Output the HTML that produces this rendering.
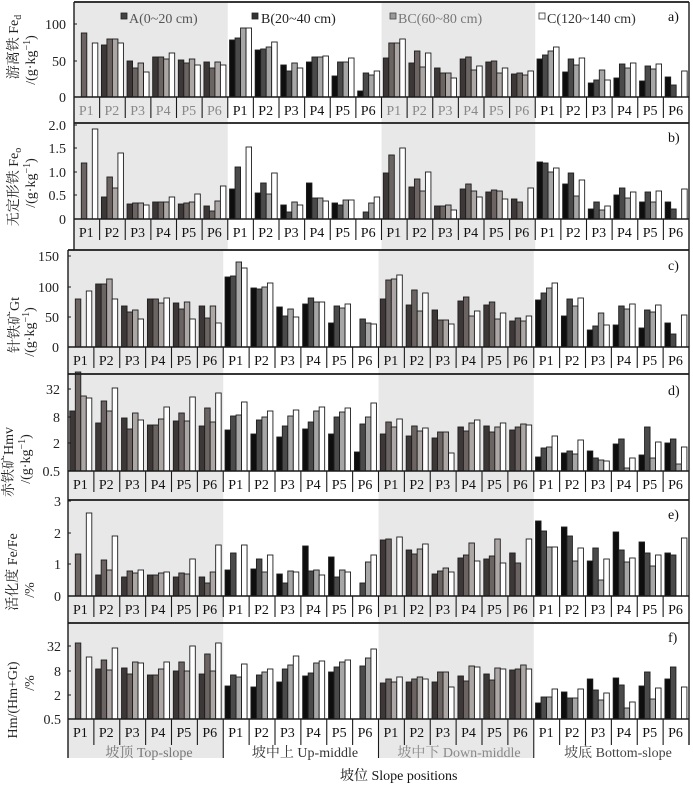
<!DOCTYPE html>
<html>
<head>
<meta charset="utf-8">
<style>
html,body{margin:0;padding:0;background:#fff;}
svg{display:block;}
text{font-family:"Liberation Serif","Noto Serif CJK SC","Noto Sans CJK SC",serif;}
</style>
</head>
<body>
<svg id="svg" xmlns="http://www.w3.org/2000/svg" width="693" height="785" viewBox="0 0 693 785">
<rect x="0" y="0" width="693" height="785" fill="#fff"/>
<g id="bg"></g>
<g id="bars"></g>
<g id="lines"></g>

<!-- Legend -->
<g font-size="14">
<rect x="121" y="13" width="6" height="6" fill="#444" stroke="#222" stroke-width="0.8"/>
<text x="129" y="23" fill="#555">A(0~20 cm)</text>
<rect x="252" y="13" width="6" height="6" fill="#333" stroke="#222" stroke-width="0.8"/>
<text x="261" y="23" fill="#222">B(20~40 cm)</text>
<rect x="390" y="13" width="6" height="6" fill="#999" stroke="#444" stroke-width="0.8"/>
<text x="398" y="23" fill="#777">BC(60~80 cm)</text>
<rect x="539" y="13" width="6" height="6" fill="#fff" stroke="#333" stroke-width="0.8"/>
<text x="547" y="23" fill="#333">C(120~140 cm)</text>
</g>

<!-- Panel letters -->
<g font-size="14" fill="#111">
<text x="668" y="21">a)</text>
<text x="668" y="142">b)</text>
<text x="668" y="270">c)</text>
<text x="668" y="395">d)</text>
<text x="668" y="519">e)</text>
<text x="668" y="642">f)</text>
</g>

<!-- Tick labels -->
<g font-size="14" fill="#222" text-anchor="end">
<text x="66" y="29">100</text><text x="66" y="66">50</text><text x="66" y="102">0</text>
<text x="66" y="130">2.0</text><text x="66" y="153">1.5</text><text x="66" y="177">1.0</text><text x="66" y="200">0.5</text><text x="66" y="224">0</text>
<text x="59" y="261">150</text><text x="59" y="292">100</text><text x="59" y="322">50</text><text x="59" y="352">0</text>
<text x="60" y="394">32</text><text x="60" y="422">8</text><text x="60" y="448">2</text><text x="60" y="476">0.5</text>
<text x="61" y="506">3</text><text x="61" y="538">2</text><text x="61" y="569">1</text><text x="61" y="601">0</text>
<text x="61" y="651">32</text><text x="61" y="676">8</text><text x="61" y="700">2</text><text x="61" y="724">0.5</text>
</g>

<!-- Y-axis titles -->
<g font-size="14" fill="#222" text-anchor="middle">
<text transform="translate(13,47) rotate(-90)" dy="5">游离铁 Fe<tspan font-size="10" dy="3">d</tspan></text>
<text transform="translate(30,60) rotate(-90)" dy="5">/(g·kg<tspan font-size="10" dy="-5">−1</tspan><tspan dy="5">)</tspan></text>
<text transform="translate(13,187) rotate(-90)" dy="5">无定形铁 Fe<tspan font-size="10" dy="3">o</tspan></text>
<text transform="translate(30,183) rotate(-90)" dy="5">/(g·kg<tspan font-size="10" dy="-5">−1</tspan><tspan dy="5">)</tspan></text>
<text transform="translate(14,325) rotate(-90)" dy="5">针铁矿Gt</text>
<text transform="translate(29,332) rotate(-90)" dy="5">/(g·kg<tspan font-size="10" dy="-5">−1</tspan><tspan dy="5">)</tspan></text>
<text transform="translate(8,462) rotate(-90)" dy="5">赤铁矿Hmv</text>
<text transform="translate(25,459) rotate(-90)" dy="5">/(g·kg<tspan font-size="10" dy="-5">−1</tspan><tspan dy="5">)</tspan></text>
<text transform="translate(12,572) rotate(-90)" dy="5">活化度 Fe/Fe</text>
<text transform="translate(29,590) rotate(-90)" dy="5">/%</text>
<text transform="translate(12,700) rotate(-90)" dy="5">Hm/(Hm+Gt)</text>
<text transform="translate(29,683) rotate(-90)" dy="5">/%</text>
</g>

<!-- P labels -->
<g font-size="14" text-anchor="middle">
<text y="115" fill="#888"><tspan x="86.3">P1</tspan><tspan x="111.9">P2</tspan><tspan x="137.6">P3</tspan><tspan x="163.2">P4</tspan><tspan x="188.8">P5</tspan><tspan x="214.4">P6</tspan></text>
<text y="115" fill="#111"><tspan x="240.1">P1</tspan><tspan x="265.7">P2</tspan><tspan x="291.3">P3</tspan><tspan x="316.9">P4</tspan><tspan x="342.6">P5</tspan><tspan x="368.2">P6</tspan></text>
<text y="115" fill="#888"><tspan x="393.8">P1</tspan><tspan x="419.4">P2</tspan><tspan x="445.1">P3</tspan><tspan x="470.7">P4</tspan><tspan x="496.3">P5</tspan><tspan x="521.9">P6</tspan></text>
<text y="115" fill="#111"><tspan x="547.6">P1</tspan><tspan x="573.2">P2</tspan><tspan x="598.8">P3</tspan><tspan x="624.4">P4</tspan><tspan x="650.1">P5</tspan><tspan x="675.7">P6</tspan></text>

<text y="237" fill="#111"><tspan x="86.3">P1</tspan><tspan x="111.9">P2</tspan><tspan x="137.6">P3</tspan><tspan x="163.2">P4</tspan><tspan x="188.8">P5</tspan><tspan x="214.4">P6</tspan><tspan x="240.1">P1</tspan><tspan x="265.7">P2</tspan><tspan x="291.3">P3</tspan><tspan x="316.9">P4</tspan><tspan x="342.6">P5</tspan><tspan x="368.2">P6</tspan><tspan x="393.8">P1</tspan><tspan x="419.4">P2</tspan><tspan x="445.1">P3</tspan><tspan x="470.7">P4</tspan><tspan x="496.3">P5</tspan><tspan x="521.9">P6</tspan><tspan x="547.6">P1</tspan><tspan x="573.2">P2</tspan><tspan x="598.8">P3</tspan><tspan x="624.4">P4</tspan><tspan x="650.1">P5</tspan><tspan x="675.7">P6</tspan></text>

<text y="365" fill="#111"><tspan x="80.4">P1</tspan><tspan x="106.3">P2</tspan><tspan x="132.2">P3</tspan><tspan x="158.0">P4</tspan><tspan x="183.9">P5</tspan><tspan x="209.8">P6</tspan><tspan x="235.7">P1</tspan><tspan x="261.5">P2</tspan><tspan x="287.4">P3</tspan><tspan x="313.3">P4</tspan><tspan x="339.2">P5</tspan><tspan x="365.0">P6</tspan><tspan x="390.9">P1</tspan><tspan x="416.8">P2</tspan><tspan x="442.7">P3</tspan><tspan x="468.5">P4</tspan><tspan x="494.4">P5</tspan><tspan x="520.3">P6</tspan><tspan x="546.2">P1</tspan><tspan x="572.0">P2</tspan><tspan x="597.9">P3</tspan><tspan x="623.8">P4</tspan><tspan x="649.7">P5</tspan><tspan x="675.5">P6</tspan></text>

<text y="489" fill="#111"><tspan x="80.4">P1</tspan><tspan x="106.3">P2</tspan><tspan x="132.2">P3</tspan><tspan x="158.0">P4</tspan><tspan x="183.9">P5</tspan><tspan x="209.8">P6</tspan><tspan x="235.7">P1</tspan><tspan x="261.5">P2</tspan><tspan x="287.4">P3</tspan><tspan x="313.3">P4</tspan><tspan x="339.2">P5</tspan><tspan x="365.0">P6</tspan><tspan x="390.9">P1</tspan><tspan x="416.8">P2</tspan><tspan x="442.7">P3</tspan><tspan x="468.5">P4</tspan><tspan x="494.4">P5</tspan><tspan x="520.3">P6</tspan><tspan x="546.2">P1</tspan><tspan x="572.0">P2</tspan><tspan x="597.9">P3</tspan><tspan x="623.8">P4</tspan><tspan x="649.7">P5</tspan><tspan x="675.5">P6</tspan></text>

<text y="614" fill="#111"><tspan x="80.4">P1</tspan><tspan x="106.3">P2</tspan><tspan x="132.2">P3</tspan><tspan x="158.0">P4</tspan><tspan x="183.9">P5</tspan><tspan x="209.8">P6</tspan><tspan x="235.7">P1</tspan><tspan x="261.5">P2</tspan><tspan x="287.4">P3</tspan><tspan x="313.3">P4</tspan><tspan x="339.2">P5</tspan><tspan x="365.0">P6</tspan><tspan x="390.9">P1</tspan><tspan x="416.8">P2</tspan><tspan x="442.7">P3</tspan><tspan x="468.5">P4</tspan><tspan x="494.4">P5</tspan><tspan x="520.3">P6</tspan><tspan x="546.2">P1</tspan><tspan x="572.0">P2</tspan><tspan x="597.9">P3</tspan><tspan x="623.8">P4</tspan><tspan x="649.7">P5</tspan><tspan x="675.5">P6</tspan></text>

<text y="737" fill="#111"><tspan x="80.4">P1</tspan><tspan x="106.3">P2</tspan><tspan x="132.2">P3</tspan><tspan x="158.0">P4</tspan><tspan x="183.9">P5</tspan><tspan x="209.8">P6</tspan><tspan x="235.7">P1</tspan><tspan x="261.5">P2</tspan><tspan x="287.4">P3</tspan><tspan x="313.3">P4</tspan><tspan x="339.2">P5</tspan><tspan x="365.0">P6</tspan><tspan x="390.9">P1</tspan><tspan x="416.8">P2</tspan><tspan x="442.7">P3</tspan><tspan x="468.5">P4</tspan><tspan x="494.4">P5</tspan><tspan x="520.3">P6</tspan><tspan x="546.2">P1</tspan><tspan x="572.0">P2</tspan><tspan x="597.9">P3</tspan><tspan x="623.8">P4</tspan><tspan x="649.7">P5</tspan><tspan x="675.5">P6</tspan></text>
</g>

<!-- Zone labels -->
<g font-size="14" text-anchor="middle">
<text x="149" y="757" fill="#777">坡顶 Top-slope</text>
<text x="305" y="757" fill="#333">坡中上 Up-middle</text>
<text x="459" y="757" fill="#888">坡中下 Down-middle</text>
<text x="618" y="757" fill="#444">坡底 Bottom-slope</text>
</g>

<text x="340" y="780" font-size="14" fill="#111">坡位 Slope positions</text>
</svg>

<script>
(function(){
var NS='http://www.w3.org/2000/svg';
var gbg=document.getElementById('bg'),gb=document.getElementById('bars'),gl=document.getElementById('lines');
function R(g,x,y,w,h,f,s,sw){var r=document.createElementNS(NS,'rect');r.setAttribute('x',x);r.setAttribute('y',y);r.setAttribute('width',w);r.setAttribute('height',h);r.setAttribute('fill',f);if(s){r.setAttribute('stroke',s);r.setAttribute('stroke-width',sw);}g.appendChild(r);}
function L(x1,y1,x2,y2,sw,c){var l=document.createElementNS(NS,'line');l.setAttribute('x1',x1);l.setAttribute('y1',y1);l.setAttribute('x2',x2);l.setAttribute('y2',y2);l.setAttribute('stroke',c||'#1a1a1a');l.setAttribute('stroke-width',sw);gl.appendChild(l);}
var D=[
[[0,33,0,43],[45,39,39,43],[61,68,63,72],[57,57,59,53],[60,63,59,65],[62,68,62,65],
 [40,38,28,28],[50,49,47,42],[65,71,63,68],[62,57,57,56],[76,62,62,58],[91,73,75,71],
 [58,43,43,39],[63,51,67,53],[68,73,73,78],[59,57,70,66],[62,61,73,68],[74,73,75,71],
 [59,55,51,47],[72,59,65,58],[83,80,70,80],[78,64,68,63],[81,66,69,64],[77,85,0,71]],
[[0,163,0,129],[197,177,188,153],[204,203,203,205],[202,202,202,197],[204,203,202,194],[206,211,201,186],
 [189,167,0,147],[193,183,194,173],[205,212,202,205],[183,198,198,201],[203,205,200,200],[0,212,203,197],
 [173,155,0,148],[187,179,191,172],[206,206,205,210],[189,184,191,197],[192,190,191,199],[199,202,0,188],
 [162,163,172,168],[184,173,196,180],[209,202,210,206],[195,188,198,192],[202,192,202,191],[202,209,0,189]],
[[0,299,0,291],[284,284,279,299],[306,312,310,319],[299,299,303,298],[303,309,302,319],[306,318,306,323],
 [277,276,262,268],[288,289,287,283],[307,316,309,317],[304,298,302,302],[323,306,308,304],[0,319,323,324],
 [299,280,279,275],[305,290,311,293],[310,320,320,324],[301,297,316,311],[305,302,319,313],[321,318,321,316],
 [300,293,288,283],[316,299,306,298],[330,326,313,325],[325,306,309,304],[328,310,312,305],[323,334,0,315]],
[[411,372,396,398],[423,401,411,388],[418,429,413,420],[425,425,419,407],[421,413,421,397],[426,408,422,393],
 [430,416,415,402],[434,420,417,411],[437,426,416,410],[429,422,411,407],[434,417,412,408],[452,424,417,403],
 [434,422,427,419],[436,426,431,428],[438,432,432,453],[427,431,423,420],[426,432,427,423],[430,427,424,425],
 [457,448,447,436],[453,451,454,440],[451,458,460,461],[444,439,468,458],[455,427,458,442],[443,439,464,447]],
[[0,554,0,513],[575,560,570,536],[577,571,573,570],[575,575,573,572],[577,573,574,559],[577,583,572,545],
 [570,553,0,545],[569,559,572,555],[574,583,571,572],[546,571,570,575],[557,577,570,572],[0,583,562,555],
 [540,539,0,537],[550,554,549,544],[574,571,568,572],[558,555,543,561],[559,556,539,563],[553,563,0,539],
 [521,531,547,547],[527,536,561,548],[561,548,580,559],[532,550,562,558],[542,553,566,555],[553,555,0,538]],
[[0,643,0,657],[669,660,670,648],[668,674,662,663],[675,675,669,662],[671,662,671,646],[674,654,671,643],
 [686,675,677,664],[687,675,672,669],[682,669,665,656],[676,673,663,661],[672,667,662,660],[0,666,658,649],
 [683,679,682,677],[682,679,677,679],[682,672,672,687],[676,681,666,667],[674,680,668,669],[670,669,665,669],
 [703,697,697,689],[692,698,698,689],[679,690,700,693],[678,685,708,702],[686,672,699,688],[679,667,0,687]]
];
var PN=[
{x0:74,top:2,base:97,next:123,tk:[24,61,97]},
{x0:74,top:123,base:219,next:250,tk:[125,148,172,195,219]},
{x0:68,top:250,base:347,next:374,tk:[256,287,317,347]},
{x0:68,top:374,base:471,next:500,tk:[389,417,443,471]},
{x0:68,top:500,base:596,next:623,tk:[501,533,564,596]},
{x0:68,top:623,base:719,next:758,tk:[646,671,695,719]}
];
var X1=689;
var CG=['#3d3837','#6b6463','#aca6a5','#ffffff'];
var CW=['#0e0e0e','#4a4a4a','#a6a6a6','#ffffff'];
PN.forEach(function(p,pi){
  var s=(X1-p.x0)/24;
  [0,2].forEach(function(z){R(gbg,p.x0+z*6*s,p.top,6*s,p.next-p.top,'#e8e8e8');});
  for(var i=0;i<24;i++){
    var z=Math.floor(i/6),cols=(z%2===0)?CG:CW;
    for(var j=0;j<4;j++){
      var v=D[pi][i][j]; if(!v) continue;
      var x=p.x0+i*s+1.8+j*5.5;
      R(gb,x,v,5.5,p.base-v,cols[j],'#1e1e1e',0.9);
    }
  }
  var last=(pi===5);
  L(p.x0,p.top,X1,p.top,1.8);
  L(p.x0,p.top,p.x0,p.next,1.4);
  L(X1,p.top,X1,last?745:p.next,1.4);
  L(p.x0,p.base,X1,p.base,1.4);
  for(var k=1;k<24;k++){
    var xx=p.x0+k*s;
    var y2=last?((k%6===0)?758:745):p.base+21;
    L(xx,p.base,xx,y2,1.1);
  }
  p.tk.forEach(function(t){L(p.x0,t,p.x0+3,t,1);});
});
})();
</script>
</body>
</html>
